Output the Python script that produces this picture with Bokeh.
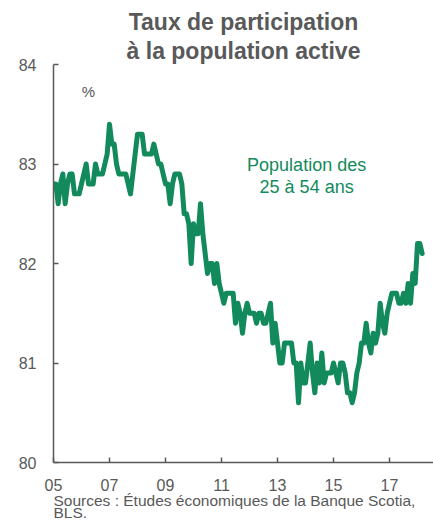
from bokeh.plotting import figure
from bokeh.models import Label, FixedTicker, Range1d, Title
from bokeh.embed import file_html
from bokeh.resources import INLINE

# Monthly prime-age (25-54) participation rate, Jan 2005 .. Mar 2018 (%)
start_year = 2005
participation = [
    82.8, 82.8, 82.6, 82.8, 82.9, 82.6, 82.8, 82.9, 82.9, 82.7, 82.7, 82.7,  # 2005
    82.8, 82.9, 83.0, 82.8, 82.8, 82.8, 83.0, 82.9, 82.9, 82.9, 83.0, 83.1,  # 2006
    83.4, 83.2, 83.2, 83.0, 82.9, 82.9, 82.9, 82.9, 82.8, 82.7, 82.9, 83.1,  # 2007
    83.3, 83.3, 83.3, 83.1, 83.1, 83.1, 83.1, 83.2, 83.1, 83.0, 83.0, 82.9,  # 2008
    82.8, 82.8, 82.6, 82.8, 82.9, 82.9, 82.9, 82.8, 82.5, 82.5, 82.4, 82.0,  # 2009
    82.4, 82.3, 82.3, 82.6, 82.3, 82.1, 81.9, 82.0, 82.0, 81.8, 82.0, 81.8,  # 2010
    81.7, 81.6, 81.7, 81.7, 81.7, 81.7, 81.4, 81.6, 81.5, 81.3, 81.5, 81.6,  # 2011
    81.5, 81.5, 81.5, 81.4, 81.5, 81.5, 81.4, 81.4, 81.5, 81.6, 81.2, 81.4,  # 2012
    81.2, 81.0, 81.0, 81.2, 81.2, 81.2, 81.2, 81.0, 81.0, 80.6, 81.0, 80.8,  # 2013
    80.8, 81.0, 81.2, 80.9, 80.7, 81.0, 80.8, 81.1, 80.8, 80.9, 80.9, 80.9,  # 2014
    81.0, 80.9, 80.8, 81.0, 81.0, 80.9, 80.7, 80.7, 80.6, 80.7, 80.9, 81.0,  # 2015
    81.2, 81.2, 81.4, 81.2, 81.1, 81.3, 81.2, 81.3, 81.6, 81.4, 81.3, 81.5,  # 2016
    81.6, 81.7, 81.7, 81.7, 81.6, 81.6, 81.7, 81.6, 81.8, 81.6, 81.9, 81.8,  # 2017
    82.2, 82.2, 82.1,                                                        # 2018
]
months = [start_year + i / 12 for i in range(len(participation))]

x_ticks = [2005, 2007, 2009, 2011, 2013, 2015, 2017]
x_tick_labels = ["05", "07", "09", "11", "13", "15", "17"]
y_ticks = [80, 81, 82, 83, 84]

title_lines = ["Taux de participation", "à la population active"]
series_label = ["Population des", "25 à 54 ans"]
source_lines = ["Sources : Études économiques de la Banque Scotia,", "BLS."]

GRAY = "#595959"
GREEN = "#138a5c"
FONT = "Liberation Sans"

p = figure(frame_width=380, frame_height=398, output_backend="svg",
           toolbar_location=None, title=None,
           x_range=Range1d(2005, 2018.571), y_range=Range1d(80, 84),
           min_border_left=53, min_border_right=0, min_border_top=64,
           min_border_bottom=59)
p.outline_line_color = None
p.grid.visible = False
p.background_fill_color = "white"

p.line(months, participation, line_color=GREEN, line_width=5,
       line_join="round", line_cap="round")

for ax in (p.xaxis[0], p.yaxis[0]):
    ax.axis_line_color = GRAY
    ax.axis_line_width = 1.5
    ax.major_tick_line_color = GRAY
    ax.major_tick_line_width = 1.5
    ax.major_tick_in = 5
    ax.major_tick_out = 0
    ax.minor_tick_line_color = None
    ax.major_label_text_font = FONT
    ax.major_label_text_font_size = "16px"
    ax.major_label_text_color = GRAY

p.xaxis.ticker = FixedTicker(ticks=x_ticks)
p.xaxis.major_label_overrides = {t: l for t, l in zip(x_ticks, x_tick_labels)}
p.xaxis.major_label_standoff = 16
p.yaxis.ticker = FixedTicker(ticks=y_ticks)
p.yaxis.major_label_standoff = 17

# Title: two lines above the plot area (first added sits nearest the frame)
for txt, so in zip(reversed(title_lines), [1, 2]):
    p.add_layout(Title(text=txt, align="center", text_font=FONT,
                       text_font_style="bold", text_font_size="23px",
                       text_color=GRAY, standoff=so), "above")

# Sources below the x axis
for txt, so in zip(source_lines, [-8, -6]):
    p.add_layout(Title(text=txt, align="left", text_font=FONT,
                       text_font_style="normal", text_font_size="15.5px",
                       text_color=GRAY, standoff=so), "below")

p.add_layout(Label(x=2006.25, y=83.73, text="%", text_align="center",
                   text_baseline="alphabetic", text_font=FONT,
                   text_font_size="15px", text_color=GRAY))

for txt, yy in zip(series_label, [82.985, 82.765]):
    p.add_layout(Label(x=2014.04, y=yy, text=txt, text_align="center",
                       text_baseline="alphabetic", text_font=FONT,
                       text_font_size="18px", text_color=GREEN))

open("out.html", "w").write(file_html(p, INLINE))
